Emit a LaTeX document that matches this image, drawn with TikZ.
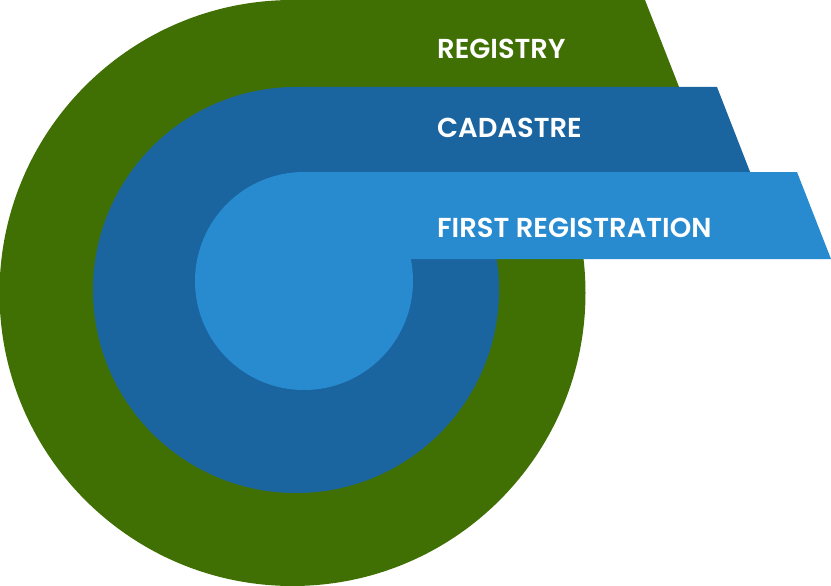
\documentclass[tikz,border=0pt]{standalone}
\usepackage{fontspec}
\newfontfamily\tabfont{Poppins SemiBold}
\definecolor{regreen}{RGB}{64, 112, 3}
\definecolor{cadblue}{RGB}{26, 100, 160}
\definecolor{firstblue}{RGB}{40, 139, 208}
\usetikzlibrary{positioning}
\tikzset{
    disc/.style={circle, inner sep=0pt, draw=none},
    tablabel/.style={anchor=base west, inner sep=0pt, text=white, font=\tabfont\fontsize{27.4}{30}\selectfont},
}

\begin{document}
\begin{tikzpicture}[x=1pt, y=-1pt]
    \useasboundingbox (0,0) rectangle (831,586);

    % Registry
    \node[disc, fill=regreen, minimum size=586pt] (registry) at (292.5,293) {};
    \fill[regreen] (292.5,0) -- (645,0) -- (683,97) -- (292.5,97) -- cycle;

    % Cadastre
    \node[disc, fill=cadblue, minimum size=406pt] (cadastre) at (296,290) {};
    \fill[cadblue] (296,87) -- (717,87) -- (754,182) -- (296,182) -- cycle;

    % First registration
    \node[disc, fill=firstblue, minimum size=218pt] (first) at (304,281) {};
    \fill[firstblue] (304,172) -- (797,172) -- (831,259) -- (304,259) -- cycle;

    % Labels
    \node[tablabel] (registry label) at (437,59) {REGISTRY};
    \node[tablabel] (cadastre label) at (437,138) {CADASTRE};
    \node[tablabel] (first label) at (437,237) {FIRST REGISTRATION};
\end{tikzpicture}
\end{document}
